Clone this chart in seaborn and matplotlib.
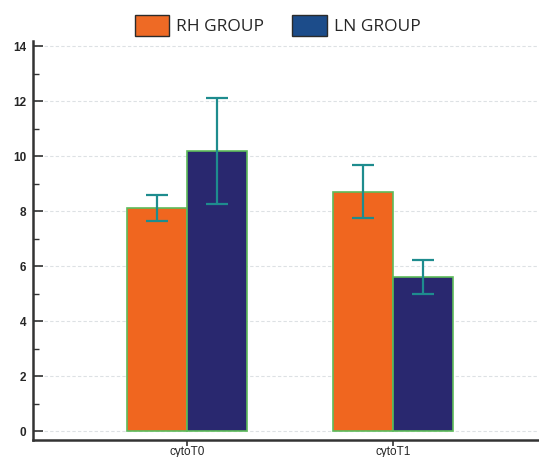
import matplotlib
matplotlib.use("Agg")
import matplotlib.pyplot as plt
import seaborn as sns
import pandas as pd
from matplotlib.patches import Patch
from matplotlib.ticker import MultipleLocator

categories = ["cytoT0", "cytoT1"]
groups = ["RH GROUP", "LN GROUP"]
rh_values = [8.12, 8.70]
ln_values = [10.19, 5.59]
rh_errors = [0.47, 0.96]
ln_errors = [1.93, 0.62]
y_ticks = [0, 2, 4, 6, 8, 10, 12, 14]

rows = []
for c, v in zip(categories, rh_values):
    rows.append({"cat": c, "group": groups[0], "val": v})
for c, v in zip(categories, ln_values):
    rows.append({"cat": c, "group": groups[1], "val": v})
df = pd.DataFrame(rows)
errs = {groups[0]: rh_errors, groups[1]: ln_errors}

sns.set_style("white")
fig = plt.figure(figsize=(5.39, 4.57), dpi=100)
ax = fig.add_axes([0.0612, 0.037, 0.9388, 0.874])

bar_colors = {"RH GROUP": "#F0661F", "LN GROUP": "#29286F"}
sns.barplot(data=df, x="cat", y="val", hue="group", hue_order=groups,
            order=categories, palette=bar_colors, width=0.58, errorbar=None,
            saturation=1, edgecolor="#5DBB5A", linewidth=1.2, ax=ax,
            legend=False, zorder=3)

# error bars at bar centers
for container, g in zip(ax.containers, groups):
    xs = [p.get_x() + p.get_width() / 2 for p in container.patches]
    ys = [p.get_height() for p in container.patches]
    ax.errorbar(xs, ys, yerr=errs[g], fmt="none", ecolor="#1E8C8E",
                elinewidth=1.6, capsize=8, capthick=1.6, zorder=4)

ax.set_xlim(-0.748, 1.71)
ax.set_ylim(-0.33, 14.2)
ax.set_yticks(y_ticks)
ax.yaxis.set_minor_locator(MultipleLocator(1))
ax.set_xlabel("")
ax.set_ylabel("")
ax.grid(axis="y", which="major", color="#DDE1E4", linestyle=(0, (3, 2)), linewidth=0.8, zorder=0)
ax.grid(axis="x", visible=False)

for s in ["top", "right"]:
    ax.spines[s].set_visible(False)
for s in ["left", "bottom"]:
    ax.spines[s].set_color("#333333")
    ax.spines[s].set_linewidth(1.8)

ax.tick_params(axis="y", which="major", direction="in", length=7, width=1.2,
               color="#333333", left=True, labelsize=8.5, pad=5)
ax.tick_params(axis="y", which="minor", direction="in", length=4, width=1.0,
               color="#333333", left=True)
ax.tick_params(axis="x", direction="out", length=4, width=1.2, color="#333333",
               bottom=True, labelsize=8.5, pad=0)
for lab in ax.get_yticklabels():
    lab.set_fontweight("bold")
    lab.set_family("Liberation Sans")
for lab in ax.get_xticklabels():
    lab.set_family("Liberation Sans")

handles = [Patch(facecolor="#EE6A25", edgecolor="#2B2B2B", linewidth=1.0, label=groups[0]),
           Patch(facecolor="#1C4C8A", edgecolor="#2B2B2B", linewidth=1.0, label=groups[1])]
fig.legend(handles=handles, loc="center", bbox_to_anchor=(0.515, 0.945), ncol=2,
           frameon=False, prop={"family": "Open Sans", "size": 12.5},
           handlelength=2.0, handleheight=1.5, handletextpad=0.4, columnspacing=1.6)

fig.savefig("out.png", dpi=100)
